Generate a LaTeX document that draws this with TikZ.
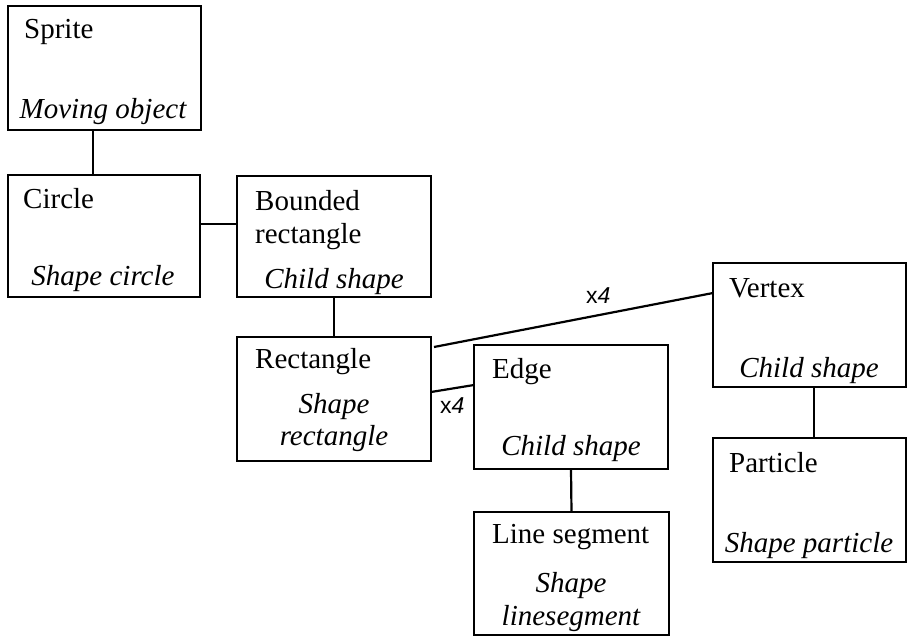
\documentclass[tikz,border=0pt]{standalone}
\usepackage{fontspec}
\setmainfont{Liberation Serif}
\setsansfont{Liberation Sans}
\begin{document}
\begin{tikzpicture}[x=1pt,y=-1pt,
  box/.style={draw, line width=2.2pt, anchor=north west, inner sep=0pt, outer sep=0pt},
  conn/.style={line width=2.2pt},
  txt/.style={inner sep=0pt, font=\fontsize{29}{33}\selectfont},
  head/.style={txt, anchor=base west},
  sub/.style={txt, anchor=base, font=\fontsize{29}{33}\selectfont\itshape},
  mult/.style={inner sep=0pt, anchor=base west, font=\fontsize{23}{26}\selectfont\sffamily}]
\useasboundingbox (0,0) rectangle (908,637);

% boxes
\node[box, minimum width=193pt, minimum height=124pt] (sprite) at (8,6) {};
\node[box, minimum width=192pt, minimum height=122pt] (circle) at (8,175) {};
\node[box, minimum width=194pt, minimum height=121pt] (bounded) at (237,176) {};
\node[box, minimum width=194pt, minimum height=124pt] (rect) at (237,337) {};
\node[box, minimum width=194pt, minimum height=124pt] (edge) at (474,345) {};
\node[box, minimum width=195pt, minimum height=123pt] (lineseg) at (474,512) {};
\node[box, minimum width=193pt, minimum height=124pt] (vertex) at (713,263) {};
\node[box, minimum width=193pt, minimum height=124pt] (particle) at (713,438) {};

% texts
\node[head] (t1) at (24,38) {Sprite};
\node[sub] (t2) at (103,118) {Moving object};
\node[head] (t3) at (23,208) {Circle};
\node[sub] (t4) at (103,285) {Shape circle};
\node[head] (t5) at (255,210) {Bounded};
\node[head] (t6) at (255,243) {rectangle};
\node[sub] (t7) at (334,288) {Child shape};
\node[head] (t8) at (255,368) {Rectangle};
\node[sub] (t9) at (334,413) {Shape};
\node[sub] (t10) at (334,445) {rectangle};
\node[head] (t11) at (492,378) {Edge};
\node[sub] (t12) at (571,455) {Child shape};
\node[head] (t13) at (492,543) {Line segment};
\node[sub] (t14) at (571,592) {Shape};
\node[sub] (t15) at (571,625) {linesegment};
\node[head] (t16) at (729,297) {Vertex};
\node[sub] (t17) at (809,377) {Child shape};
\node[head] (t18) at (729,472) {Particle};
\node[sub] (t19) at (809,552) {Shape particle};

% connectors
\draw[conn] ([xshift=-11.5pt]sprite.south) -- ([xshift=-11pt]circle.north);
\draw[conn] ([yshift=12pt]circle.east) -- ([yshift=12.5pt]bounded.west);
\draw[conn] (bounded.south) -- (rect.north);
\draw[conn] ([xshift=3pt,yshift=-10pt]rect.north east) -- ([yshift=-30pt]vertex.north west);
\draw[conn] ([yshift=7pt]rect.east) -- ([yshift=22pt]edge.west);
\draw[conn] (edge.south) -- (lineseg.north);
\draw[conn] ([xshift=4.5pt]vertex.south) -- ([xshift=4.5pt]particle.north);

% multiplicities
\node[mult] (m1) at (586,303) {x\textit{4}};
\node[mult] (m2) at (440,413) {x\textit{4}};
\end{tikzpicture}
\end{document}
